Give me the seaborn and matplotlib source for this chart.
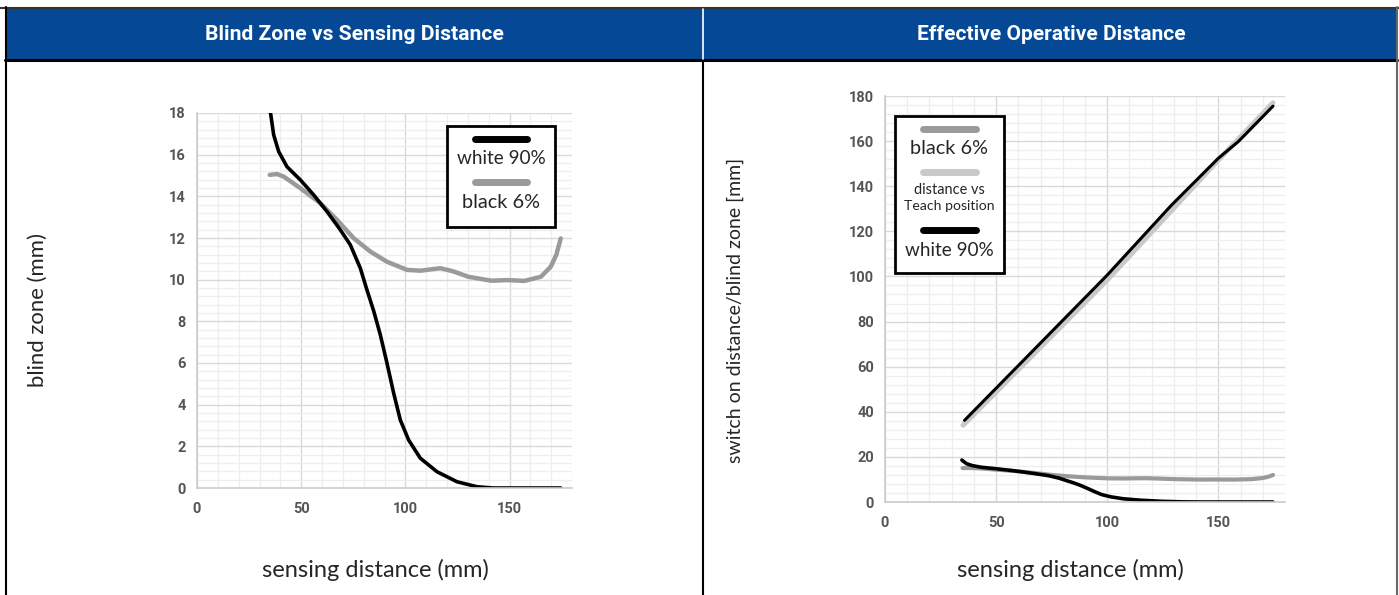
import matplotlib
matplotlib.use("Agg")
import matplotlib.pyplot as plt
from matplotlib.lines import Line2D
from matplotlib.ticker import MultipleLocator
import seaborn as sns
import pandas as pd

# ---------------- data ----------------
# Blind zone, white 90 %
white_x = [34.6, 35.2, 36.8, 39.2, 43.2, 49.6, 56.0, 62.4, 68.8, 73.6, 78.4, 81.6,
           84.8, 88.0, 91.2, 94.4, 97.6, 101.6, 107.2, 115.2, 124.8, 134.4, 142.0,
           150.4, 174.6]
white_y = [18.6, 18.07, 16.95, 16.15, 15.42, 14.79, 14.07, 13.27, 12.39, 11.67, 10.55,
           9.5, 8.5, 7.35, 5.99, 4.55, 3.26, 2.3, 1.43, 0.78, 0.3, 0.06, 0.0, 0.0, 0.0]
# Blind zone, black 6 %
black_x = [34.9, 38.4, 41.6, 49.6, 59.2, 67.2, 75.2, 83.2, 91.2, 100.8, 107.2, 116.8,
           123.0, 130.2, 141.3, 149.2, 157.1, 165.1, 169.8, 172.5, 174.6]
black_y = [15.03, 15.07, 14.95, 14.39, 13.67, 12.87, 11.99, 11.35, 10.86, 10.47, 10.43,
           10.55, 10.4, 10.14, 9.95, 9.98, 9.94, 10.14, 10.62, 11.2, 11.98]
# Switch-on distance vs teach position
teach_x = [35.1, 100.0, 150.0, 174.6]
teach_y = [34.0, 98.4, 151.6, 177.0]
# Switch-on distance, white 90 %
won_x = [35.8, 100.0, 129.0, 150.0, 159.0, 174.6]
won_y = [36.2, 100.6, 131.7, 152.4, 159.8, 175.5]

titles = ["Blind Zone vs Sensing Distance", "Effective Operative Distance"]
xlabel = "sensing distance (mm)"
ylabels = ["blind zone (mm)", "switch on distance/blind zone [mm]"]

# ---------------- style ----------------
sns.set_theme(style="white")
plt.rcParams['font.family'] = ['Lato', 'DejaVu Sans']
COND = ['Roboto', 'DejaVu Sans']

W, H = 1399, 595
fig = plt.figure(figsize=(W / 100, H / 100), dpi=100)

def fx(px):
    return px / W

def fy(py):
    return 1 - py / H

fit_list = []  # (text, target length in px, rotated)

BLUE = '#044896'
# header band
fig.patches.append(plt.Rectangle((fx(5), fy(60)), fx(1392), 52 / H, transform=fig.transFigure,
                                 facecolor=BLUE, edgecolor='none', zorder=0))
# frame lines
fig.add_artist(Line2D([fx(0), fx(1399)], [fy(7.5), fy(7.5)], color='#333333', lw=1.5))
fig.add_artist(Line2D([fx(5), fx(1397)], [fy(60), fy(60)], color='black', lw=2.2))
fig.add_artist(Line2D([fx(5.5), fx(5.5)], [fy(7), fy(595)], color='black', lw=1.5))
fig.add_artist(Line2D([fx(1397), fx(1397)], [fy(7), fy(595)], color='#666666', lw=1.5))
fig.add_artist(Line2D([fx(703.5), fx(703.5)], [fy(9), fy(59)], color='white', lw=1.2))
fig.add_artist(Line2D([fx(703.5), fx(703.5)], [fy(61), fy(595)], color='black', lw=1.5))

t = fig.text(fx(354.5), fy(34), titles[0], color='white', fontsize=14, fontweight='bold',
             family=COND, ha='center', va='center')
fit_list.append((t, 299, False))
t = fig.text(fx(1051.5), fy(34), titles[1], color='white', fontsize=14, fontweight='bold',
             family=COND, ha='center', va='center')
fit_list.append((t, 269, False))

ax1 = fig.add_axes([fx(197), fy(488), fx(375), 375 / H])
ax2 = fig.add_axes([fx(885), fy(502), fx(400), 406 / H])

df_white = pd.DataFrame({'x': white_x, 'y': white_y})
df_black = pd.DataFrame({'x': black_x, 'y': black_y})
df_teach = pd.DataFrame({'x': teach_x, 'y': teach_y})
df_won = pd.DataFrame({'x': won_x, 'y': won_y})

GRAY = '#9a9a9a'
LIGHT = '#c9c9c9'
kw = dict(sort=False, estimator=None, solid_capstyle='round', solid_joinstyle='round')

# left chart
sns.lineplot(data=df_black, x='x', y='y', ax=ax1, color=GRAY, lw=3.2, **kw)
sns.lineplot(data=df_white, x='x', y='y', ax=ax1, color='black', lw=2.6, **kw)
ax1.set_xlim(0, 180)
ax1.set_ylim(0, 18)
ax1.xaxis.set_major_locator(MultipleLocator(50))
ax1.xaxis.set_minor_locator(MultipleLocator(10))
ax1.yaxis.set_major_locator(MultipleLocator(2))
ax1.yaxis.set_minor_locator(MultipleLocator(0.4))

# right chart
sns.lineplot(data=df_black, x='x', y='y', ax=ax2, color=GRAY, lw=3.0, **kw)
sns.lineplot(data=df_white, x='x', y='y', ax=ax2, color='black', lw=2.6, **kw)
sns.lineplot(data=df_teach, x='x', y='y', ax=ax2, color=LIGHT, lw=3.6, **kw)
sns.lineplot(data=df_won, x='x', y='y', ax=ax2, color='black', lw=2.2, **kw)
ax2.set_xlim(0, 180)
ax2.set_ylim(0, 180)
ax2.xaxis.set_major_locator(MultipleLocator(50))
ax2.xaxis.set_minor_locator(MultipleLocator(10))
ax2.yaxis.set_major_locator(MultipleLocator(20))
ax2.yaxis.set_minor_locator(MultipleLocator(4))

for ax in (ax1, ax2):
    ax.set_axisbelow(True)
    ax.grid(which='major', color='#d9d9d9', lw=1.0)
    ax.grid(which='minor', color='#eeeeee', lw=0.9)
    for s in ('top', 'right'):
        ax.spines[s].set_visible(False)
    for s in ('left', 'bottom'):
        ax.spines[s].set_color('#cccccc')
        ax.spines[s].set_linewidth(1.2)
    ax.tick_params(which='both', length=0)
    ax.tick_params(axis='x', pad=10)
    ax.tick_params(axis='y', pad=8)
    ax.set_xlabel('')
    ax.set_ylabel('')
    for lab in ax.get_xticklabels() + ax.get_yticklabels():
        lab.set_fontfamily(COND)
        lab.set_fontweight('bold')
        lab.set_fontsize(10.5)
        lab.set_color('#555555')

# axis labels
t = fig.text(fx(375), fy(570), xlabel, fontsize=15, ha='center', va='center')
fit_list.append((t, 227, False))
t = fig.text(fx(1070), fy(570), xlabel, fontsize=15, ha='center', va='center')
fit_list.append((t, 227, False))
t = fig.text(fx(38), fy(310), ylabels[0], fontsize=15, rotation=90, ha='center', va='center')
fit_list.append((t, 155, True))
t = fig.text(fx(735), fy(310), ylabels[1], fontsize=15, rotation=90, ha='center', va='center')
fit_list.append((t, 304, True))

# legends (drawn manually: key line above its label)
def legend_box(x0, y0, x1, y1):
    fig.patches.append(plt.Rectangle((fx(x0), fy(y1)), fx(x1 - x0), (y1 - y0) / H,
                                     transform=fig.transFigure, facecolor='white',
                                     edgecolor='black', lw=2.0, zorder=5))

def key(xa, xb, y, color, lw):
    fig.add_artist(Line2D([fx(xa), fx(xb)], [fy(y), fy(y)], color=color, lw=lw, zorder=6))

def label(x, y, s, target, size=13.5):
    tt = fig.text(fx(x), fy(y), s, fontsize=size, ha='center', va='center')
    tt.set_zorder(6)
    fit_list.append((tt, target, False))

legend_box(447, 126, 555, 227)
key(475, 527, 139, 'black', 5)
label(501, 159, 'white 90%', 89)
key(475, 527, 182, GRAY, 5)
label(501, 202, 'black 6%', 78)

legend_box(895, 116, 1004, 273)
key(923, 976, 129, GRAY, 5)
label(949.5, 149, 'black 6%', 78)
key(923, 976, 172, LIGHT, 5)
label(949.5, 190, 'distance vs', 71, 10)
label(949.5, 206, 'Teach position', 90, 10)
key(923, 976, 230, 'black', 5)
label(949.5, 250, 'white 90%', 89)

# scale font sizes so text lengths match the reference
for _ in range(2):
    fig.canvas.draw()
    r = fig.canvas.get_renderer()
    for tt, target, rot in fit_list:
        bb = tt.get_window_extent(r)
        cur = bb.height if rot else bb.width
        tt.set_fontsize(tt.get_fontsize() * target / cur)

fig.savefig('out.png', dpi=100)
